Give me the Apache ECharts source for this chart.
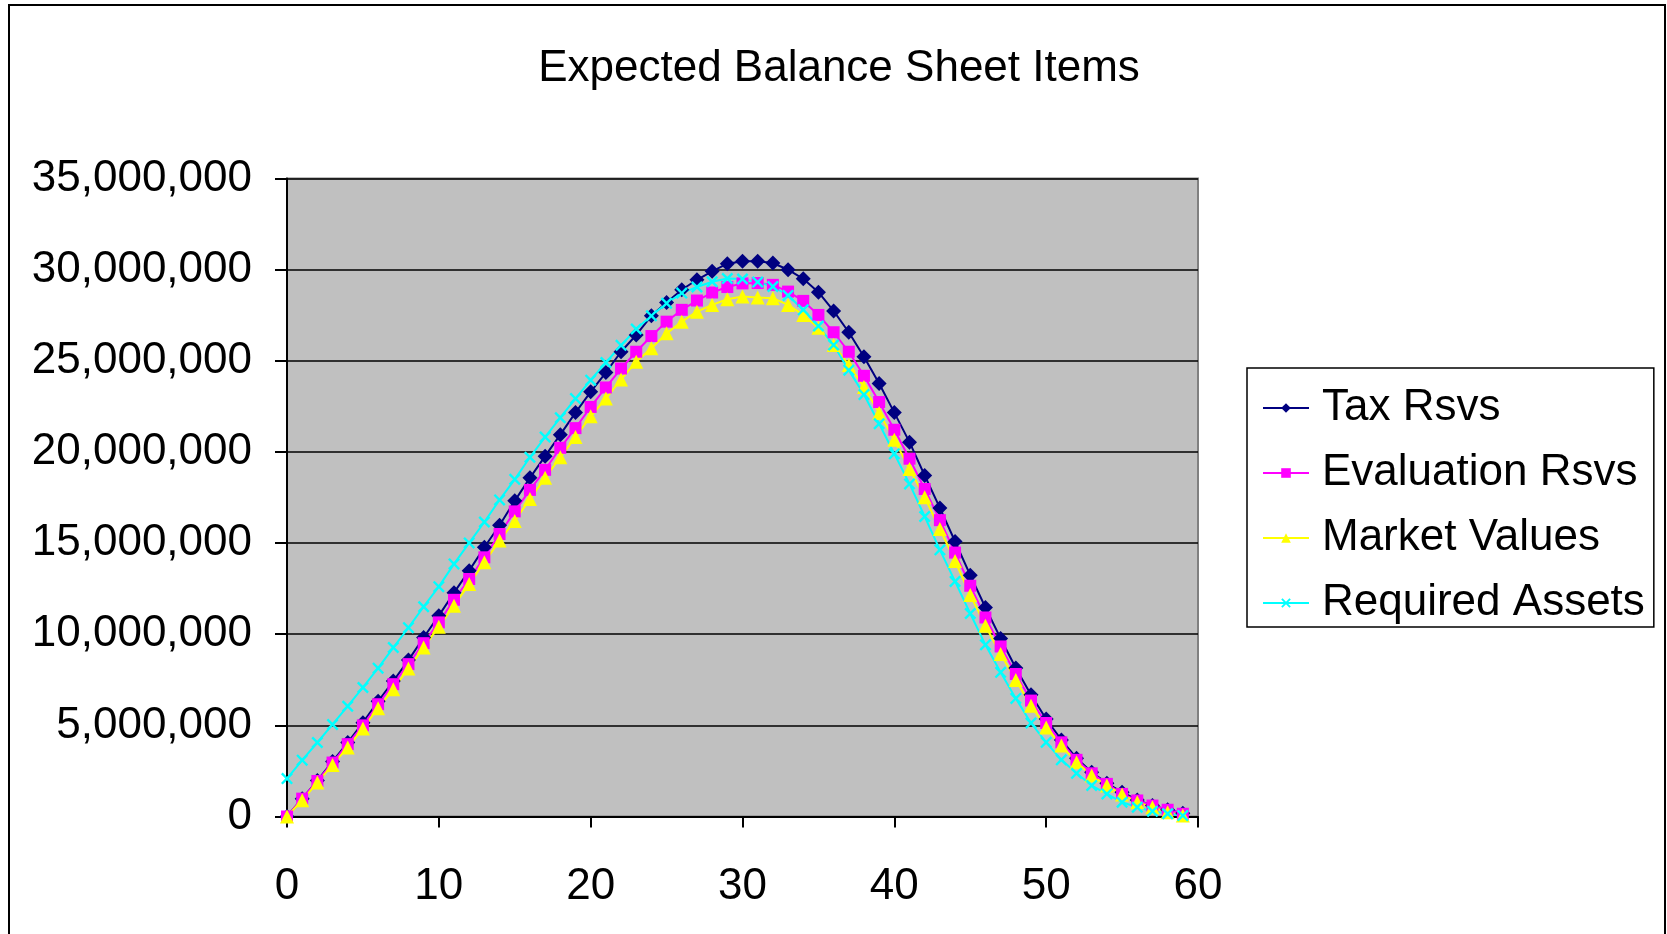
<!DOCTYPE html>
<html>
<head>
<meta charset="utf-8">
<title>Expected Balance Sheet Items</title>
<script src="https://cdn.jsdelivr.net/npm/echarts@6/dist/echarts.min.js"></script>
<style>
    html, body { margin: 0; padding: 0; background: #fff; }
    #main { width: 1667px; height: 934px; }
</style>
</head>
<body>
<div id="main"></div>
<script>
// values in millions, one per year 0..59
var years = [];
for (var i = 0; i < 60; i++) { years.push(i); }

var taxRsvs = [0, 0.98, 1.97, 3.02, 4.06, 5.15, 6.32, 7.43, 8.58, 9.82,
    11.02, 12.28, 13.49, 14.77, 15.98, 17.32, 18.58, 19.77, 20.95, 22.16,
    23.30, 24.36, 25.50, 26.42, 27.47, 28.20, 28.90, 29.45, 29.91, 30.33,
    30.46, 30.46, 30.37, 30.00, 29.50, 28.77, 27.74, 26.57, 25.22, 23.76,
    22.16, 20.54, 18.71, 16.93, 15.09, 13.24, 11.47, 9.77, 8.15, 6.68,
    5.35, 4.20, 3.20, 2.43, 1.83, 1.33, 0.91, 0.60, 0.37, 0.18];

var evaluationRsvs = [0, 0.98, 1.95, 2.96, 3.97, 5.00, 6.16, 7.26, 8.36, 9.51,
    10.65, 11.89, 13.03, 14.22, 15.50, 16.74, 17.92, 19.02, 20.23, 21.31,
    22.47, 23.54, 24.58, 25.50, 26.36, 27.15, 27.80, 28.31, 28.75, 29.05,
    29.25, 29.27, 29.17, 28.80, 28.29, 27.52, 26.57, 25.50, 24.18, 22.74,
    21.22, 19.63, 17.97, 16.26, 14.48, 12.66, 10.92, 9.33, 7.82, 6.36,
    5.13, 4.07, 3.11, 2.37, 1.79, 1.24, 0.88, 0.60, 0.37, 0.15];

var marketValues = [0, 0.89, 1.86, 2.83, 3.79, 4.83, 5.94, 6.98, 8.12, 9.27,
    10.41, 11.57, 12.76, 13.95, 15.14, 16.22, 17.42, 18.58, 19.71, 20.82,
    21.96, 22.93, 23.98, 24.95, 25.69, 26.51, 27.15, 27.70, 28.07, 28.38,
    28.53, 28.47, 28.44, 28.07, 27.52, 26.82, 25.87, 24.77, 23.57, 22.14,
    20.67, 19.07, 17.51, 15.77, 14.02, 12.16, 10.47, 8.92, 7.49, 6.08,
    4.89, 3.89, 2.98, 2.25, 1.70, 1.21, 0.78, 0.51, 0.24, 0.05];

var requiredAssets = [2.08, 3.09, 4.06, 5.05, 6.05, 7.08, 8.14, 9.27, 10.36, 11.51,
    12.61, 13.86, 15.01, 16.16, 17.37, 18.50, 19.71, 20.82, 21.88, 22.93,
    23.94, 24.91, 25.85, 26.75, 27.47, 28.16, 28.72, 29.05, 29.34, 29.52,
    29.49, 29.32, 29.08, 28.59, 27.80, 26.91, 25.87, 24.49, 23.15, 21.55,
    19.90, 18.25, 16.46, 14.63, 12.90, 11.14, 9.42, 7.91, 6.48, 5.13,
    4.07, 3.11, 2.37, 1.70, 1.24, 0.78, 0.51, 0.29, 0.15, 0.05];

var seriesNames = ["Tax Rsvs", "Evaluation Rsvs", "Market Values", "Required Assets"];
var xTicks = [0, 10, 20, 30, 40, 50, 60];

var FONT = '"Liberation Sans", Arial, sans-serif';
var crossPath = "path://M0,1.4L1.4,0L5,3.6L8.6,0L10,1.4L6.4,5L10,8.6L8.6,10L5,6.4L1.4,10L0,8.6L3.6,5Z";

function toPairs(values) {
    return values.map(function (v, i) { return [years[i], v * 1000000]; });
}

function fmtNum(v) {
    return String(Math.round(v)).replace(/\B(?=(\d{3})+(?!\d))/g, ",");
}

function lineSeries(name, values, color, symbol, size) {
    return {
        name: name,
        type: "line",
        data: toPairs(values),
        symbol: symbol,
        symbolSize: size,
        showSymbol: true,
        smooth: false,
        animation: false,
        lineStyle: { color: color, width: 2 },
        itemStyle: { color: color }
    };
}

var chart = echarts.init(document.getElementById("main"));

chart.setOption({
    backgroundColor: "#ffffff",
    animation: false,
    title: {
        text: "Expected Balance Sheet Items",
        left: 834,
        textAlign: "center",
        top: 42,
        textStyle: { fontFamily: FONT, fontSize: 44, fontWeight: "normal", color: "#000" }
    },
    graphic: [{
        type: "rect",
        shape: { x: 9, y: 5, width: 1656, height: 960 },
        style: { fill: "none", stroke: "#000", lineWidth: 2 },
        silent: true
    }],
    legend: {
        orient: "vertical",
        left: 1247,
        top: 368,
        data: seriesNames,
        itemWidth: 46,
        itemHeight: 12,
        itemGap: 21,
        padding: [18, 9, 2, 15],
        borderColor: "#000",
        borderWidth: 1.5,
        backgroundColor: "#fff",
        textStyle: { fontFamily: FONT, fontSize: 44, color: "#000", padding: [0, 0, 0, 8] }
    },
    grid: {
        left: 287,
        right: 469,
        top: 178.6,
        bottom: 117.5,
        show: true,
        backgroundColor: "#c0c0c0",
        borderColor: "#808080",
        borderWidth: 2
    },
    xAxis: {
        type: "value",
        min: xTicks[0],
        max: xTicks[xTicks.length - 1],
        interval: 10,
        axisLine: { show: true, lineStyle: { color: "#000", width: 2 } },
        axisTick: { show: true, inside: false, length: 11, lineStyle: { color: "#000", width: 2 } },
        splitLine: { show: false },
        axisLabel: { fontFamily: FONT, fontSize: 44, color: "#000", margin: 48 }
    },
    yAxis: {
        type: "value",
        min: 0,
        max: 35000000,
        interval: 5000000,
        axisLine: { show: true, lineStyle: { color: "#000", width: 2 } },
        axisTick: { show: true, inside: false, length: 12, lineStyle: { color: "#000", width: 2 } },
        splitLine: { show: true, lineStyle: { color: "#000", width: 1.5 } },
        axisLabel: { fontFamily: FONT, fontSize: 44, color: "#000", margin: 35, formatter: fmtNum }
    },
    series: [
        lineSeries(seriesNames[0], taxRsvs, "#000080", "diamond", 15),
        lineSeries(seriesNames[1], evaluationRsvs, "#ff00ff", "rect", 12),
        lineSeries(seriesNames[2], marketValues, "#ffff00", "triangle", 14),
        lineSeries(seriesNames[3], requiredAssets, "#00ffff", crossPath, 12)
    ]
});
</script>
</body>
</html>
